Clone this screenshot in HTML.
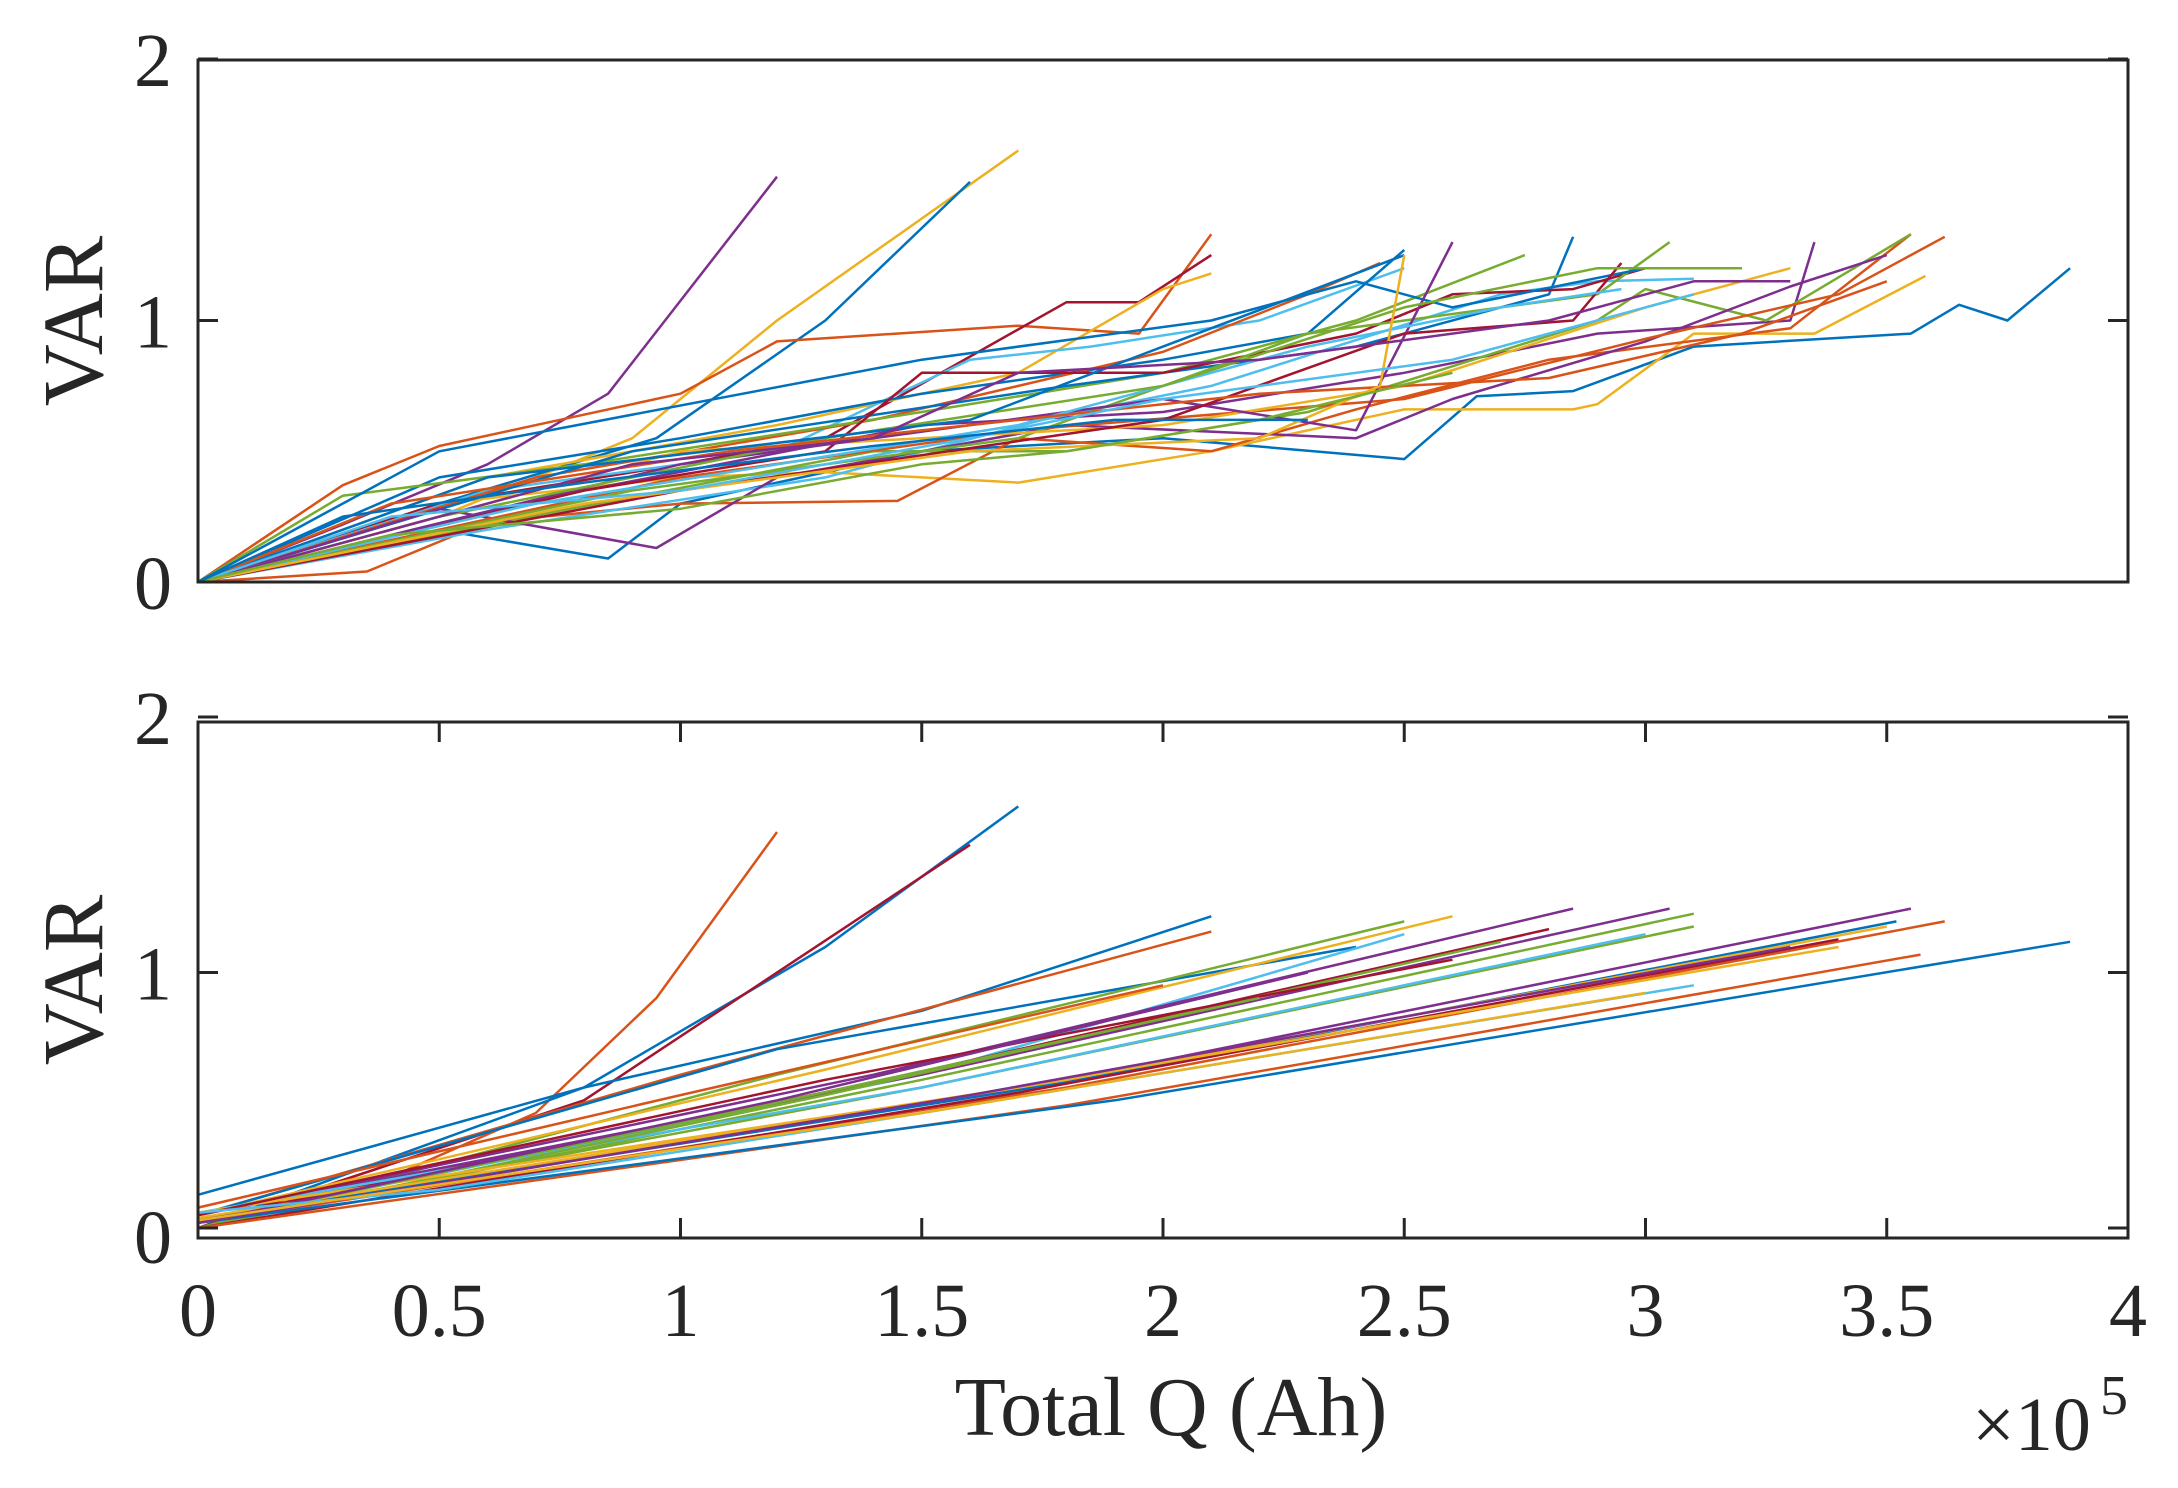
<!DOCTYPE html>
<html><head><meta charset="utf-8"><style>
html,body{margin:0;padding:0;background:#fff;}
svg{display:block;font-family:"Liberation Serif",serif;}
</style></head><body>
<svg id="chart" width="2178" height="1488" viewBox="0 0 2178 1488" xmlns="http://www.w3.org/2000/svg">
<g id="top-lines"></g>
<g id="bot-lines"></g>
<g id="axes"></g>
</svg>
<script>
const colors = ["#0072BD","#D95319","#EDB120","#7E2F8E","#77AC30","#4DBEEE","#A2142F"];
const xTicks = [0,0.5,1,1.5,2,2.5,3,3.5,4];
const xTickLabels = ["0","0.5","1","1.5","2","2.5","3","3.5","4"];
const yTicks = [0,1,2];
const yTickLabels = ["0","1","2"];
// top panel series: [colorIndex, [[x,y],...]]
const topSeries = [
[3,[[0,0],[0.3,0.22],[0.6,0.45],[0.85,0.72],[1.2,1.55]]],
[2,[[0,0],[0.5,0.25],[0.9,0.55],[1.2,1.0],[1.7,1.65]]],
[0,[[0,0],[0.5,0.3],[0.95,0.55],[1.3,1.0],[1.6,1.53]]],
[1,[[0,0],[0.3,0.37],[0.5,0.52],[1.0,0.72],[1.2,0.92],[1.7,0.98],[1.95,0.95],[2.1,1.33]]],
[0,[[0,0],[0.5,0.2],[0.85,0.09],[1.0,0.3],[1.5,0.5],[2.0,0.55],[2.5,0.47],[2.65,0.71],[2.85,0.73],[3.1,0.9],[3.55,0.95],[3.65,1.06],[3.75,1.0],[3.88,1.2]]],
[2,[[0,0],[0.5,0.3],[1.0,0.4],[1.3,0.42],[1.7,0.38],[2.1,0.5],[2.5,0.66],[2.85,0.66],[2.9,0.68],[3.1,0.95],[3.35,0.95],[3.58,1.17]]],
[1,[[0,0],[0.35,0.04],[0.6,0.23],[1.0,0.3],[1.45,0.31],[1.7,0.55],[2.1,0.5],[2.4,0.66],[2.8,0.85],[3.3,0.97],[3.55,1.33]]],
[6,[[0,0],[0.5,0.3],[1.0,0.45],[1.3,0.55],[1.8,1.07],[1.95,1.07],[2.1,1.25]]],
[2,[[0,0],[0.6,0.4],[1.2,0.6],[1.7,0.8],[2.0,1.12],[2.1,1.18]]],
[5,[[0,0],[0.6,0.35],[1.2,0.5],[1.6,0.85],[1.85,0.9],[2.2,1.0],[2.5,1.2]]],
[0,[[0,0],[0.5,0.4],[1.0,0.55],[1.5,0.72],[2.0,0.85],[2.3,0.95],[2.5,1.27]]],
[1,[[0,0],[0.7,0.4],[1.4,0.62],[2.0,0.88],[2.3,1.1],[2.45,1.22]]],
[4,[[0,0],[0.3,0.33],[0.8,0.45],[1.5,0.65],[2.0,0.8],[2.4,1.0],[2.75,1.25]]],
[0,[[0,0],[0.9,0.5],[1.8,0.75],[2.4,0.9],[2.8,1.1],[2.85,1.32]]],
[3,[[0,0],[0.8,0.35],[1.5,0.6],[2.0,0.65],[2.5,0.8],[2.9,0.95],[3.3,1.0],[3.35,1.3]]],
[4,[[0,0],[0.6,0.22],[1.4,0.5],[1.8,0.5],[2.3,0.65],[2.9,1.0],[3.0,1.12],[3.25,1.0],[3.55,1.33]]],
[5,[[0,0],[0.6,0.2],[1.3,0.4],[1.75,0.62],[2.1,0.75],[2.7,1.1],[2.9,1.15],[3.1,1.16]]],
[3,[[0,0],[0.5,0.28],[0.95,0.13],[1.2,0.4],[1.8,0.6],[2.4,0.55],[2.6,0.7],[3.0,0.92],[3.3,1.13],[3.5,1.25]]],
[6,[[0,0],[0.8,0.35],[1.3,0.5],[1.5,0.8],[2.0,0.8],[2.4,0.95],[2.6,1.1],[2.85,1.12],[3.0,1.2]]],
[1,[[0,0],[1.0,0.4],[1.7,0.58],[2.5,0.7],[3.0,0.93],[3.4,1.1],[3.62,1.32]]],
[4,[[0,0],[0.9,0.35],[1.7,0.55],[2.3,0.95],[2.9,1.1],[3.05,1.3]]],
[2,[[0,0],[1.0,0.5],[2.0,0.6],[2.5,0.75],[3.0,1.05],[3.3,1.2]]],
[0,[[0,0],[0.5,0.5],[1.5,0.85],[2.1,1.0],[2.4,1.15],[2.6,1.05],[3.0,1.2]]],
[3,[[0,0],[1.0,0.45],[2.0,0.7],[2.4,0.58],[2.6,1.3]]],
[6,[[0,0],[1.0,0.35],[2.0,0.62],[2.5,0.95],[2.85,1.0],[2.95,1.22]]],
[5,[[0,0],[0.7,0.3],[1.7,0.6],[2.3,0.9],[2.7,1.05],[2.95,1.12]]],
[4,[[0,0],[0.5,0.25],[1.3,0.55],[2.0,0.75],[2.5,1.05],[2.9,1.2],[3.2,1.2]]],
[0,[[0,0],[0.6,0.4],[1.6,0.62],[2.0,0.9],[2.5,1.25]]],
[1,[[0,0],[0.4,0.3],[1.1,0.5],[1.6,0.6],[2.2,0.72],[2.8,0.78],[3.2,0.95],[3.5,1.15]]],
[2,[[0,0],[0.8,0.3],[1.6,0.5],[2.2,0.55],[2.45,0.75],[2.5,1.25]]],
[3,[[0,0],[0.9,0.45],[1.4,0.55],[1.7,0.8],[2.2,0.85],[2.8,1.0],[3.1,1.15],[3.3,1.15]]],
[5,[[0,0],[0.4,0.25],[1.0,0.35],[1.6,0.55],[2.0,0.7],[2.6,0.85],[3.1,1.1]]],
[4,[[0,0],[0.4,0.18],[1.0,0.28],[1.5,0.45],[1.8,0.5],[2.2,0.62],[2.6,0.8]]],
[0,[[0,0],[0.3,0.25],[0.8,0.38],[1.4,0.52],[1.9,0.62],[2.3,0.62]]]
];
// bottom panel series: [colorIndex, [[x,y],...]]
const botSeries = [
[1,[[0,0.02],[0.4,0.2],[0.7,0.45],[0.95,0.9],[1.2,1.55]]],
[0,[[0,0.0],[0.8,0.55],[1.3,1.1],[1.7,1.65]]],
[6,[[0,0.0],[0.8,0.5],[1.6,1.5]]],
[0,[[0,0.13],[0.8,0.55],[1.5,0.85],[2.1,1.22]]],
[1,[[0,0.05],[1.0,0.6],[2.1,1.16]]],
[0,[[0,0.05],[1.2,0.7],[2.4,1.1]]],
[4,[[0,0.0],[1.2,0.6],[2.5,1.2]]],
[2,[[0,0.05],[1.3,0.62],[2.6,1.22]]],
[5,[[0,0.02],[1.5,0.6],[2.5,1.15]]],
[3,[[0,0.05],[1.4,0.6],[2.85,1.25]]],
[6,[[0,0.03],[1.4,0.57],[2.8,1.17]]],
[3,[[0,0.05],[1.5,0.6],[3.05,1.25]]],
[4,[[0,0.0],[1.5,0.58],[3.1,1.23]]],
[4,[[0,0.02],[1.5,0.55],[3.1,1.18]]],
[5,[[0,0.06],[1.5,0.55],[3.0,1.15]]],
[4,[[0,0.0],[1.3,0.52],[2.7,1.12]]],
[3,[[0,0.03],[1.8,0.58],[3.55,1.25]]],
[1,[[0,0.02],[1.8,0.55],[3.62,1.2]]],
[0,[[0,0.03],[1.8,0.57],[3.52,1.2]]],
[2,[[0,0.04],[1.8,0.58],[3.5,1.18]]],
[6,[[0,0.0],[1.7,0.53],[3.4,1.13]]],
[1,[[0,0.0],[1.8,0.48],[3.57,1.07]]],
[0,[[0,0.02],[1.9,0.5],[3.88,1.12]]],
[2,[[0,0.06],[1.7,0.55],[3.4,1.1]]],
[3,[[0,0.02],[1.6,0.52],[3.3,1.1]]],
[6,[[0,0.05],[1.3,0.58],[2.6,1.05]]],
[1,[[0,0.08],[1.0,0.52],[2.0,0.95]]],
[4,[[0,0.02],[1.1,0.45],[2.2,0.9]]],
[3,[[0,0.02],[1.2,0.5],[2.3,1.0]]],
[5,[[0,0.06],[0.5,0.15],[1.5,0.45],[3.1,0.95]]],
[2,[[0,0.03],[1.5,0.45],[3.0,0.92]]]
];
const X0=198, X1=2128;
function xs(v){return X0+(v/4)*(X1-X0);}
function ysTop(v){return 582-v*261.5;}
function ysBot(v){return 1228-v*255.5;}
const NS="http://www.w3.org/2000/svg";
function mk(tag, attrs, parent){const e=document.createElementNS(NS,tag);for(const k in attrs)e.setAttribute(k,attrs[k]);parent.appendChild(e);return e;}
function drawSeries(list, g, ys, prefix){
  list.forEach((s,i)=>{
    const d=s[1].map((p,j)=>(j?"L":"M")+xs(p[0]).toFixed(1)+" "+ys(p[1]).toFixed(1)).join(" ");
    const p=mk("path",{d:d,fill:"none",stroke:colors[s[0]],"stroke-width":"2.5","stroke-linejoin":"round"},g);
    
    
  });
}
drawSeries(topSeries, document.getElementById("top-lines"), ysTop, "top");
drawSeries(botSeries, document.getElementById("bot-lines"), ysBot, "bottom");
const ax=document.getElementById("axes");
function panel(top,bot,ys,showX,prefix,labOff){
  const r=mk("rect",{x:X0,y:top,width:X1-X0,height:bot-top,fill:"none",stroke:"#262626","stroke-width":"3"},ax);
  
  
  yTicks.forEach((t,i)=>{
    const y=ys(t);
    mk("line",{x1:X0,x2:X0+20,y1:y,y2:y,stroke:"#262626","stroke-width":"3"},ax);
    mk("line",{x1:X1-20,x2:X1,y1:y,y2:y,stroke:"#262626","stroke-width":"3"},ax);
    const tx=mk("text",{x:153,y:y+27+(i===0?labOff:0),"text-anchor":"middle","font-size":"76",fill:"#262626"},ax);
    tx.textContent=yTickLabels[i];
    
    
  });
  if(showX){
    xTicks.forEach((t,i)=>{
      const x=xs(t);
      if(i>0&&i<xTicks.length-1){
        mk("line",{x1:x,x2:x,y1:bot,y2:bot-20,stroke:"#262626","stroke-width":"3"},ax);
        mk("line",{x1:x,x2:x,y1:top,y2:top+20,stroke:"#262626","stroke-width":"3"},ax);
      }
      const tx=mk("text",{x:x,y:1336,"text-anchor":"middle","font-size":"76",fill:"#262626"},ax);
      tx.textContent=xTickLabels[i];
      
      
    });
  }
  const cy=(top+bot)/2;
  const yl=mk("text",{x:102,y:cy,"text-anchor":"middle","font-size":"86",fill:"#262626",transform:"rotate(-90 102 "+cy+")"},ax);
  yl.textContent="VAR";
  
  
}
panel(60,582,ysTop,false,"top",0);
panel(722,1238,ysBot,true,"bottom",8);
const xt=mk("text",{x:1171,y:1435,"text-anchor":"middle","font-size":"84",fill:"#262626"},ax);
xt.textContent="Total Q (Ah)";


const ex=mk("text",{x:1972,y:1450,"font-size":"76",fill:"#262626"},ax);
ex.textContent="×10";


const sup=mk("text",{x:2100,y:1414,"font-size":"56",fill:"#262626"},ax);
sup.textContent="5";


</script>
</body></html>
